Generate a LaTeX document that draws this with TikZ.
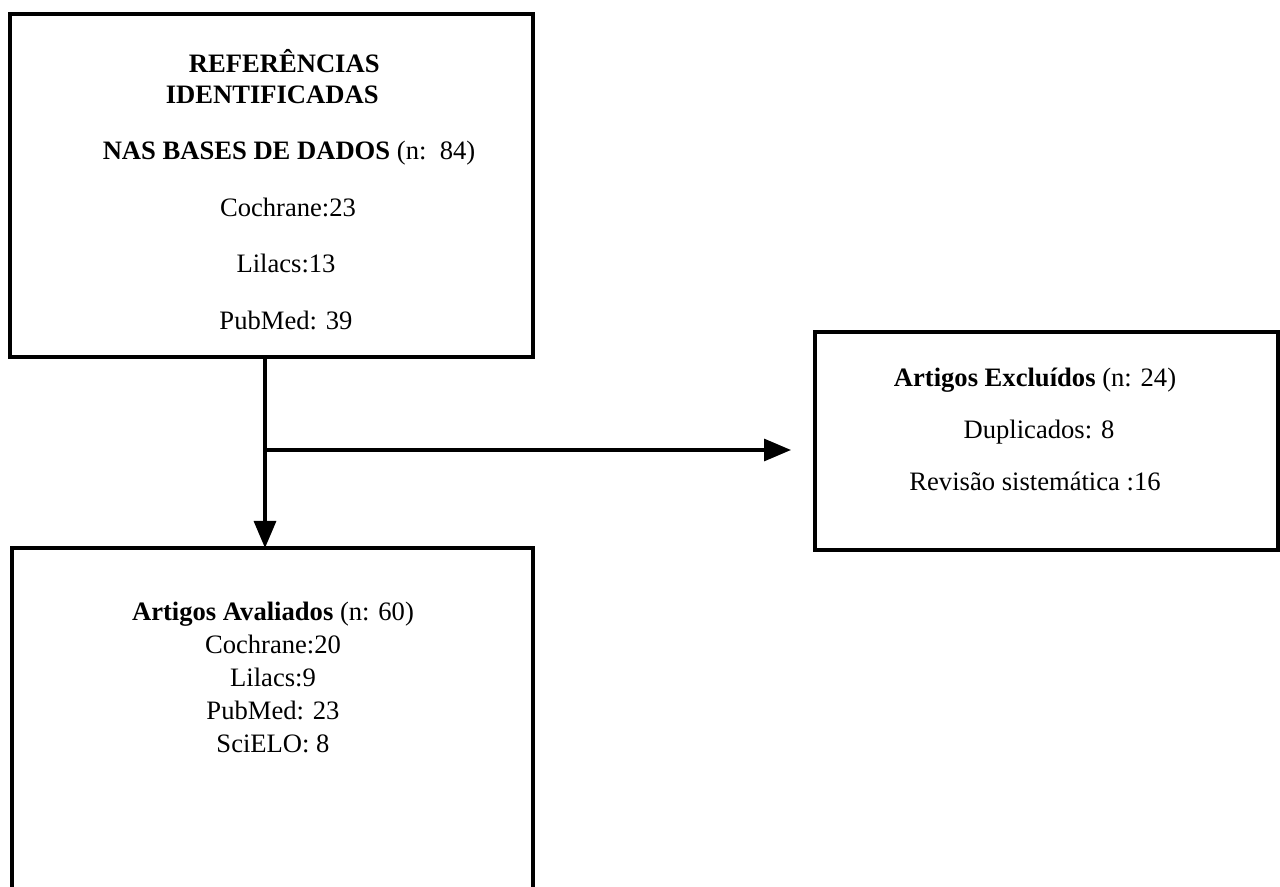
\documentclass[tikz,border=0pt]{standalone}
\usepackage{fontspec}
\setmainfont{Liberation Serif}
\usepackage{tikz}
\usetikzlibrary{arrows.meta,positioning}

\tikzset{
  box/.style={draw, line width=1.6pt, inner sep=0pt, outer sep=0pt},
  flow/.style={line width=1.6pt, -{Triangle[length=13.5pt,width=11pt]}},
  txt/.style={anchor=base, inner sep=0pt, font=\fontsize{13.3}{16}\selectfont}
}

\begin{document}
\begin{tikzpicture}[x=0.5pt,y=-0.5pt]
    \clip (0,0) rectangle (1280,887);

    % Identified references
    \node[box, minimum width=261.5pt, minimum height=171.5pt] (refs) at (271.5,185.5) {};
    \node[txt, anchor=base east] (refsA) at (380,73) {\textbf{REFERÊNCIAS}};
    \node[txt, anchor=base east] (refsB) at (379,104) {\textbf{IDENTIFICADAS}};
    \node[txt] (refsC) at (289,160) {\textbf{NAS BASES DE DADOS} (n:\ \ 84)};
    \node[txt] (refsD) at (288,217) {Cochrane:23};
    \node[txt] (refsE) at (286,273) {Lilacs:13};
    \node[txt] (refsF) at (286,330) {PubMed: 39};

    % Excluded articles
    \node[box, line width=2pt, minimum width=231.5pt, minimum height=109pt] (excl) at (1046.5,441) {};
    \node[txt] (exclA) at (1035,387) {\textbf{Artigos Excluídos} (n: 24)};
    \node[txt] (exclB) at (1039,439) {Duplicados: 8};
    \node[txt] (exclC) at (1035,491) {Revisão sistemática :16};

    % Evaluated articles
    \node[box, minimum width=260.5pt, minimum height=201pt] (eval) at (272.5,749) {};
    \node[txt] (evalA) at (273,620) {\textbf{Artigos Avaliados} (n: 60)};
    \node[txt] (evalB) at (273,653) {Cochrane:20};
    \node[txt] (evalC) at (273,686) {Lilacs:9};
    \node[txt] (evalD) at (273,719) {PubMed: 23};
    \node[txt] (evalE) at (273,752) {SciELO: 8};

    % Arrows
    \coordinate (split) at (265,450);
    \draw[flow] (split |- refs.south) -- (split |- eval.north);
    \draw[flow, shorten >=12pt] (split) -- (split -| excl.west);
\end{tikzpicture}
\end{document}
